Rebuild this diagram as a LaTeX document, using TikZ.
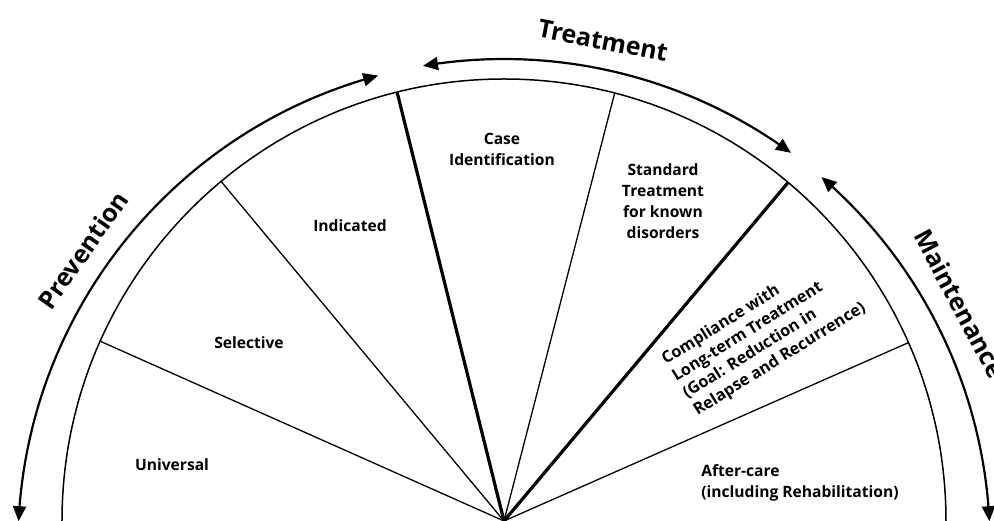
\documentclass[tikz,border=0pt]{standalone}
\usepackage{fontspec}
\setmainfont{Open Sans}
\usetikzlibrary{arrows.meta, bending}

\begin{document}
\begin{tikzpicture}[x=1pt, y=1pt]
    \tikzstyle{every node} = [font=\bfseries\fontsize{15.6}{21}\selectfont, align=center, inner sep=0pt]
    \tikzstyle{phase} = [font=\bfseries\fontsize{25}{28}\selectfont]
    \tikzstyle{sector} = [line width=1.3pt]
    \tikzstyle{border} = [line width=3.2pt]
    \tikzstyle{span} = [line width=2.2pt, {Triangle[length=15pt, width=13pt]}-{Triangle[length=15pt, width=13pt]}]
    \useasboundingbox (-504, 0) rectangle (490, 521);
    \coordinate (hub) at (0, 0);
    \coordinate (mid) at (0, -24);
    % half circle and sectors
    \draw [line width=1.5pt] (442pt, 0) arc (0:180:442pt);
    \foreach \a in {23.8, 75.5, 129.8, 156}
        \draw [sector] (hub) -- (\a:442pt);
    \foreach \a in {50, 104}
        \draw [border] (hub) -- (\a:442pt);
    % phase arrows
    \draw [span] ([shift={(105:486pt)}]mid) arc (105:177.2:486pt);
    \draw [span] ([shift={(99.6:486pt)}]mid) arc (99.6:53.8:486pt);
    \draw [span] ([shift={(49.2:486pt)}]mid) arc (49.2:2.8:486pt);
    \node [phase, rotate=55] (prevention) at ([shift={(145:514pt)}]mid) {Prevention};
    \node [phase, rotate=-11] (treatment) at ([shift={(78.9:514pt)}]mid) {Treatment};
    \node [phase, rotate=-62] (maintenance) at ([shift={(27.9:516pt)}]mid) {Maintenance};
    % sector labels
    \node (universal) at (-332, 56) {Universal};
    \node (selective) at (-255, 178) {Selective};
    \node (indicated) at (-154, 295) {Indicated};
    \node (caseid) at (-2, 372) {Case\\Identification};
    \node (standard) at (159, 320) {Standard\\Treatment\\for known\\disorders};
    \node [rotate=32, align=left, font=\bfseries\fontsize{16.2}{20}\selectfont] (compliance) at (260, 187)
        {Compliance with\\Long-term Treatment\\(Goal: Reduction in\\Relapse and Recurrence)};
    \node [align=left] (aftercare) at (296, 38.5) {After-care\\(including Rehabilitation)};
\end{tikzpicture}
\end{document}
